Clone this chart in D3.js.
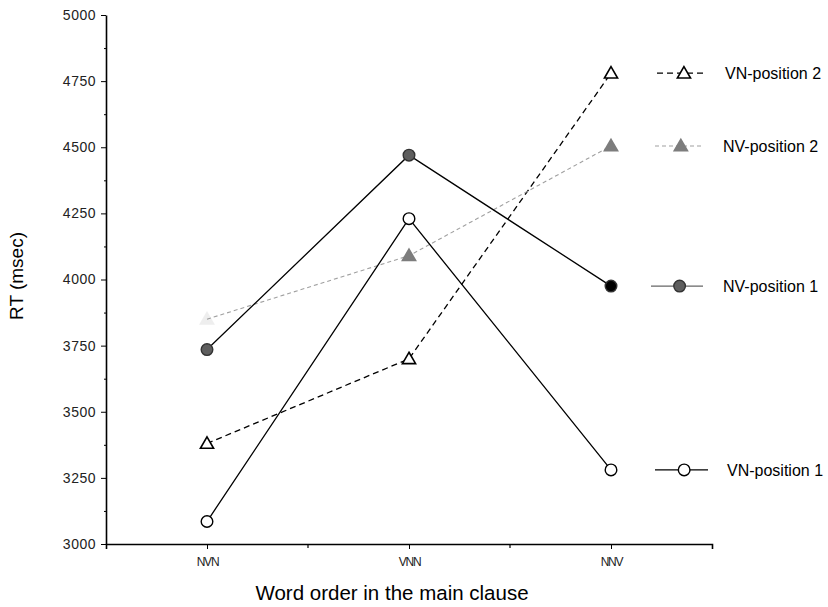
<!DOCTYPE html>
<html>
<head>
<meta charset="utf-8">
<script src="https://cdn.jsdelivr.net/npm/d3@7"></script>
<style>
  body { margin: 0; background: #fff; }
  svg { font-family: "Liberation Sans", Arial, sans-serif; }
</style>
</head>
<body>
<script>
// Chart size
const width = 828, height = 607;

// Data
const categories = ["NVN", "VNN", "NNV"];
const yTicks = [3000, 3250, 3500, 3750, 4000, 4250, 4500, 4750, 5000];
const vnPos2 = [3380, 3700, 4780];
const nvPos2 = [3850, 4090, 4505];
const nvPos1 = [3735, 4470, 3975];
const vnPos1 = [3085, 4230, 3280];
const seriesNames = ["VN-position 2", "NV-position 2", "NV-position 1", "VN-position 1"];

const svg = d3.select("body").append("svg")
    .attr("width", width)
    .attr("height", height);

// Scales
const x = d3.scalePoint().domain(categories).range([106, 712]).padding(0.5);
const y = d3.scaleLinear().domain([3000, 5000]).range([544, 15]);

// Y axis with major and minor ticks
svg.append("g")
    .attr("transform", "translate(106,0)")
    .call(d3.axisLeft(y).tickValues(d3.range(3125, 5000, 250)).tickSize(2).tickFormat(""))
    .call(g => g.select(".domain").remove());
svg.append("g")
    .attr("transform", "translate(106,0)")
    .call(d3.axisLeft(y).tickValues(yTicks).tickSize(5).tickSizeOuter(0).tickPadding(5).tickFormat(d3.format("d")))
    .call(g => g.selectAll("text").attr("font-size", 14).attr("fill", "#222")
        .attr("letter-spacing", 0.5).attr("font-family", "Liberation Sans, Arial"))
    .call(g => g.select(".domain").attr("stroke-width", 1.6));

// X axis
const xStep = x.step();
const xMinor = categories.slice(0, -1).map(c => x(c) + xStep / 2);
svg.append("g")
    .attr("transform", "translate(0,544)")
    .call(d3.axisBottom(x).tickSize(5).tickSizeOuter(5).tickPadding(8))
    .call(g => g.selectAll("text").attr("font-size", 12).attr("fill", "#222")
        .attr("font-family", "Liberation Sans, Arial").attr("letter-spacing", -1.2))
    .call(g => g.select(".domain").attr("stroke-width", 1.6));
svg.append("g")
    .selectAll("line").data(xMinor).join("line")
    .attr("x1", d => d).attr("x2", d => d)
    .attr("y1", 544).attr("y2", 548)
    .attr("stroke", "#000").attr("stroke-width", 1.2);

// Axis titles
svg.append("text")
    .attr("x", 392).attr("y", 600)
    .attr("text-anchor", "middle")
    .attr("font-size", 20.5)
    .text("Word order in the main clause");
svg.append("text")
    .attr("transform", "translate(23,276) rotate(-90)")
    .attr("text-anchor", "middle")
    .attr("font-size", 19)
    .text("RT (msec)");

const line = d3.line().x((d, i) => x(categories[i])).y(d => y(d));

// Series styles
const series = [
  { name: seriesNames[0], values: vnPos2, stroke: "#000", dash: "6,4", width: 1.3, marker: "tri", fill: "#fff", mstroke: "#000" },
  { name: seriesNames[1], values: nvPos2, stroke: "#a0a0a0", dash: "4,3", width: 1.1, marker: "tri", fill: "#7d7d7d", mstroke: "#7d7d7d" },
  { name: seriesNames[2], values: nvPos1, stroke: "#000", dash: null, width: 1.3, marker: "circle", fill: "#5e5e5e", mstroke: "#333" },
  { name: seriesNames[3], values: vnPos1, stroke: "#000", dash: null, width: 1.3, marker: "circle", fill: "#fff", mstroke: "#000" }
];

const triangle = d3.symbol().type(d3.symbolTriangle).size(75);

function drawMarker(g, s, cx, cy, fill, opacity) {
  if (s.marker === "tri") {
    g.append("path")
      .attr("d", triangle())
      .attr("transform", `translate(${cx},${cy + 1})`)
      .attr("fill", fill).attr("stroke", s.mstroke).attr("stroke-width", 1.6)
      .attr("opacity", opacity);
  } else {
    g.append("circle")
      .attr("cx", cx).attr("cy", cy).attr("r", 5.8)
      .attr("fill", fill).attr("stroke", s.mstroke).attr("stroke-width", 1.4)
      .attr("opacity", opacity);
  }
}

// Lines
series.forEach(s => {
  svg.append("path")
    .datum(s.values)
    .attr("d", line)
    .attr("fill", "none")
    .attr("stroke", s.stroke)
    .attr("stroke-width", s.width)
    .attr("stroke-dasharray", s.dash);
});

// Markers
series.forEach(s => {
  const g = svg.append("g");
  s.values.forEach((v, i) => {
    let fill = s.fill, op = 1;
    if (s.name === "NV-position 1" && i === 2) fill = "#000";
    if (s.name === "NV-position 2" && i === 0) op = 0.12;
    drawMarker(g, s, x(categories[i]), y(v), fill, op);
  });
});

// Legend, each row placed next to the series' last value
const legendX = [657, 655, 651, 655];
const legendLen = [49, 47, 52, 53];
const legendText = [725, 723, 723, 727];
series.forEach((s, k) => {
  const ly = y(s.values[s.values.length - 1]);
  const x0 = legendX[k];
  const g = svg.append("g");
  g.append("line")
    .attr("x1", x0).attr("x2", x0 + legendLen[k])
    .attr("y1", ly).attr("y2", ly)
    .attr("stroke", k === 2 ? "#666" : s.stroke)
    .attr("stroke-width", s.width)
    .attr("stroke-dasharray", s.dash);
  drawMarker(g, s, x0 + legendLen[k] * 0.55, ly, s.fill, 1);
  g.append("text")
    .attr("x", legendText[k]).attr("y", ly + 6)
    .attr("font-size", 16)
    .text(s.name);
});
</script>
</body>
</html>
